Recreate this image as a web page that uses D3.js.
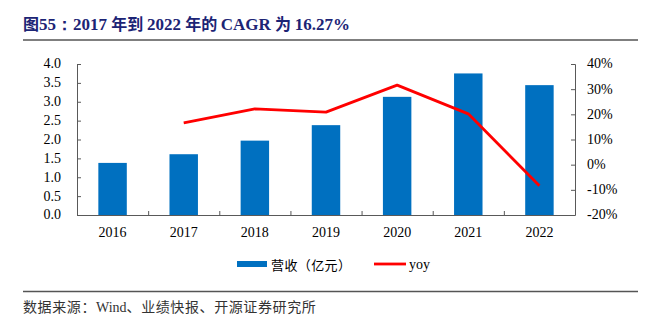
<!DOCTYPE html>
<html>
<head>
<meta charset="utf-8">
<script src="https://cdn.jsdelivr.net/npm/d3@7"></script>
<style>
  body { margin: 0; background: #fff; }
  svg { display: block; }
</style>
</head>
<body>
<svg width="649" height="323"></svg>
<script>
const years = ['2016', '2017', '2018', '2019', '2020', '2021', '2022'];
const revenue = [1.38, 1.61, 1.97, 2.38, 3.13, 3.75, 3.44];   // 营收（亿元）
const yoy = [null, 16.6, 22.2, 20.9, 31.6, 20.2, -8.4];        // %
const leftTicks = [0, 0.5, 1, 1.5, 2, 2.5, 3, 3.5, 4];
const rightTicks = [-20, -10, 0, 10, 20, 30, 40];

const svg = d3.select('svg');
const margin = {left: 77, top: 64, right: 74, bottom: 108};
const width = +svg.attr('width');
const height = +svg.attr('height');
const x0 = margin.left, x1 = width - margin.right;
const y0 = height - margin.bottom, y1 = margin.top;
const serif = 'Liberation Serif, Times New Roman, serif';
const cjk = 'Noto Sans CJK SC, sans-serif';
const axisColor = '#595959';

// title + rules
svg.append('text')
  .attr('x', 23).attr('y', 30)
  .attr('font-family', serif)
  .attr('font-size', 17).attr('font-weight', 'bold')
  .attr('fill', '#1c2475')
  .selectAll('tspan')
  .data([['图', cjk], ['55：', serif], ['2017 ', serif], ['年到 ', cjk], ['2022 ', serif], ['年的 ', cjk], ['CAGR ', serif], ['为 ', cjk], ['16.27%', serif]])
  .enter().append('tspan')
    .attr('font-family', d => d[1])
    .attr('font-size', d => d[1] === cjk ? 16 : 17)
    .text(d => d[0]);

svg.append('line').attr('x1', 23).attr('x2', 638).attr('y1', 40).attr('y2', 40)
  .attr('stroke', '#555').attr('stroke-width', 1.3);
svg.append('line').attr('x1', 23).attr('x2', 638).attr('y1', 291.5).attr('y2', 291.5)
  .attr('stroke', '#555').attr('stroke-width', 1.3);

svg.append('text')
  .attr('x', 23).attr('y', 312)
  .attr('font-size', 14).attr('fill', '#333')
  .selectAll('tspan')
  .data([['数据来源：', cjk], ['Wind', serif], ['、业绩快报、开源证券研究所', cjk]])
  .enter().append('tspan')
    .attr('font-family', d => d[1])
    .attr('letter-spacing', d => d[1] === cjk ? 0.6 : 0)
    .text(d => d[0]);

const xScale = d3.scaleBand().domain(years).range([x0, x1]).paddingInner(0.6).paddingOuter(0.3);
const yLeft = d3.scaleLinear().domain([0, 4]).range([y0, y1]);
const yRight = d3.scaleLinear().domain([-20, 40]).range([y0, y1]);
const xMid = d => xScale(d) + xScale.bandwidth() / 2;

// bars
svg.selectAll('rect.bar').data(years)
  .enter().append('rect')
    .attr('class', 'bar')
    .attr('x', d => xScale(d))
    .attr('y', (d, i) => yLeft(revenue[i]))
    .attr('width', xScale.bandwidth())
    .attr('height', (d, i) => y0 - yLeft(revenue[i]))
    .attr('fill', '#0070c0');

// yoy line
const line = d3.line()
  .defined(d => d[1] !== null)
  .x(d => xMid(d[0]))
  .y(d => yRight(d[1]));
svg.append('path')
  .datum(years.map((y, i) => [y, yoy[i]]))
  .attr('d', line)
  .attr('fill', 'none')
  .attr('stroke', '#ff0000')
  .attr('stroke-width', 2.8)
  .attr('stroke-linejoin', 'round');

// axes: lines and ticks from d3, labels placed separately
const styleAxis = sel => {
  sel.select('.domain').attr('stroke', axisColor);
  sel.selectAll('.tick line').attr('stroke', axisColor);
};

svg.append('g')
  .attr('transform', `translate(${x0},0)`)
  .call(d3.axisLeft(yLeft).tickValues(leftTicks).tickFormat('')
    .tickSizeInner(-4).tickSizeOuter(-4))
  .call(styleAxis);

svg.append('g')
  .attr('transform', `translate(${x1},0)`)
  .call(d3.axisRight(yRight).tickValues(rightTicks).tickFormat('')
    .tickSizeInner(-4).tickSizeOuter(-4))
  .call(styleAxis);

svg.selectAll('text.ly').data(leftTicks)
  .enter().append('text')
    .attr('class', 'ly')
    .attr('x', x0 - 16).attr('y', d => yLeft(d)).attr('dy', '0.32em')
    .attr('text-anchor', 'end')
    .attr('font-family', serif).attr('font-size', 14)
    .text(d3.format('.1f'));

svg.selectAll('text.ry').data(rightTicks)
  .enter().append('text')
    .attr('class', 'ry')
    .attr('x', x1 + 12).attr('y', d => yRight(d)).attr('dy', '0.32em')
    .attr('font-family', serif).attr('font-size', 14)
    .text(d => d + '%');

// x axis, ticks sit between categories
const sepX = d => xScale(d) - xScale.step() * xScale.paddingInner() / 2;
svg.append('line').attr('x1', x0).attr('x2', x1).attr('y1', y0 + 0.5).attr('y2', y0 + 0.5)
  .attr('stroke', axisColor);
svg.selectAll('line.sep').data(years.slice(1))
  .enter().append('line')
    .attr('class', 'sep')
    .attr('x1', d => sepX(d) + 0.5).attr('x2', d => sepX(d) + 0.5)
    .attr('y1', y0 + 0.5).attr('y2', y0 - 4)
    .attr('stroke', axisColor);
svg.selectAll('text.xl').data(years)
  .enter().append('text')
    .attr('class', 'xl')
    .attr('x', xMid)
    .attr('y', y0 + 22)
    .attr('text-anchor', 'middle')
    .attr('font-family', serif).attr('font-size', 14)
    .text(d => d);

// legend
const legend = svg.append('g');
legend.append('rect').attr('x', 237).attr('y', 261).attr('width', 30).attr('height', 6).attr('fill', '#0070c0');
legend.append('text').attr('x', 271).attr('y', 269.5)
  .attr('font-family', cjk).attr('font-size', 13).attr('letter-spacing', 0.4).attr('fill', '#000')
  .text('营收（亿元）');
legend.append('line').attr('x1', 374).attr('x2', 406).attr('y1', 264).attr('y2', 264)
  .attr('stroke', '#ff0000').attr('stroke-width', 2.8);
legend.append('text').attr('x', 409).attr('y', 268.5)
  .attr('font-family', serif).attr('font-size', 14).attr('fill', '#000')
  .text('yoy');
</script>
</body>
</html>
